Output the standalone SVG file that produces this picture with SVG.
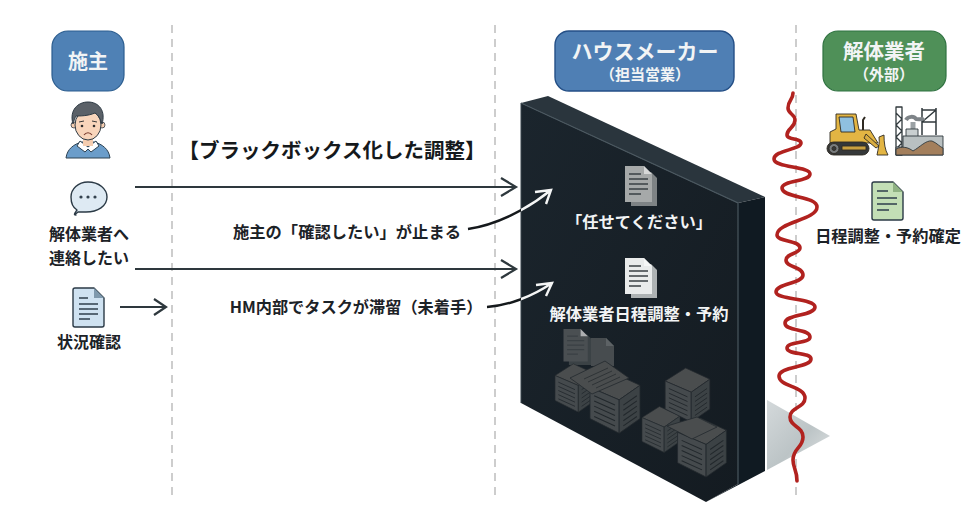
<svg xmlns="http://www.w3.org/2000/svg" xmlns:xlink="http://www.w3.org/1999/xlink" width="980" height="520" viewBox="0 0 980 520">
<style>
text{font-family:"Noto Sans CJK JP","Noto Sans",sans-serif;text-anchor:middle;font-weight:700}
.dk{fill:#1c2227;font-size:16px}
.wt{fill:#f2f4f5}
.div{stroke:#9b9b9b;stroke-width:1;stroke-dasharray:8 6;fill:none}
.arr{stroke:#2e383d;stroke-width:2.2;fill:none}
.ic{stroke:#2b3a46;stroke-width:1.4;stroke-linejoin:round}
.ln{stroke:#2f3f4c;stroke-width:1.3;fill:none}
.bl{fill:#454a4d;stroke:#23292e;stroke-width:.8}
.br{fill:#3c4245;stroke:#23292e;stroke-width:.8}
.bt{fill:#4a4d4e;stroke:#23292e;stroke-width:.8}
.bs{stroke:#22282c;stroke-width:1;fill:none}
</style>
<defs>
<linearGradient id="front" x1="0" y1="0" x2="1" y2="1"><stop offset="0" stop-color="#1b252d"/><stop offset="1" stop-color="#141b21"/></linearGradient>
<linearGradient id="shadow" x1="0" y1="0" x2="1" y2="1"><stop offset="0" stop-color="#d4d9db"/><stop offset=".55" stop-color="#bcc4c6"/><stop offset="1" stop-color="#e2e5e6"/></linearGradient>
<clipPath id="outside"><rect x="0" y="0" width="521" height="520"/></clipPath>
<clipPath id="inside"><rect x="521" y="0" width="200" height="520"/></clipPath>
<symbol id="box" viewBox="0 0 48 58" overflow="visible">
<path class="bt" d="M0 14L22 0L48 12L28 26Z"/>
<path class="bl" d="M0 14L28 26V58L0 44Z"/>
<path class="br" d="M28 26L48 12V44L28 58Z"/>
<path class="bs" d="M4 22L24 31M4 27L24 36M4 32L24 41M4 37L24 46M4 42L24 51M32 31L45 22M32 36L45 27M32 41L45 32M32 46L45 37M32 51L45 42"/>
</symbol>
<symbol id="doc" viewBox="0 0 34 40" overflow="visible">
<path d="M8 6H28L34 12V40H8Z" fill="currentColor" opacity=".72"/>
<path d="M2 0H21L29 8V36H2Z" fill="currentColor"/>
<path d="M21 0V8H29Z" fill="#ffffff" opacity=".55"/>
<path d="M6 8H18M6 13H25M6 18H25M6 23H25M6 28H18" stroke="#3a4044" stroke-width="1.4" fill="none"/>
</symbol>
</defs>
<rect width="980" height="520" fill="#ffffff"/>

<g id="dividers">
<path class="div" d="M172 25V497"/>
<path class="div" d="M495 25V497"/>
<path class="div" d="M796 25V497"/>
</g>

<g id="shadow-area"><path d="M767 400L830 436L767 470Z" fill="url(#shadow)"/></g>

<g id="blackbox-wall">
<path d="M521 103L548 96L765 197L738 203Z" fill="#2a353d"/>
<path d="M738 203L765 197V471L706 502L738 484Z" fill="#101a22"/>
<path d="M521 103L738 203V484L706 502L521 403Z" fill="url(#front)"/>
<path d="M521 103L738 203V484" fill="none" stroke="#49565e" stroke-width="1.2"/>
<path d="M521 103V403" fill="none" stroke="#39454d" stroke-width="1"/>
<use href="#doc" x="623" y="166" width="34" height="40" color="#a6a9a9"/>
<text class="wt" x="639" y="228" font-size="16.3">「任せてください」</text>
<use href="#doc" x="623" y="258" width="34" height="40" color="#e9ebeb"/>
<text class="wt" x="639" y="320" font-size="16.3">解体業者日程調整・予約</text>
<g id="stacks">
<use href="#doc" x="561" y="329" width="32" height="36" color="#4a4f52"/>
<path d="M591 338H606L614 346V366H591Z" fill="#474c4f"/>
<path d="M606 338V346H614Z" fill="#5d6265"/>
<use href="#box" x="555" y="358" width="40" height="60"/>
<use href="#box" x="590" y="372" width="50" height="62"/>
<path class="bt" d="M570 378L605 361L629 378L592 394Z"/>
<path class="bs" d="M584 379L608 368M588 382L612 371M592 385L616 374M596 388L620 377" opacity=".7"/>
<use href="#box" x="642" y="402" width="38" height="55"/>
<use href="#box" x="665" y="368" width="45" height="54"/>
<use href="#box" x="677" y="418" width="50" height="59"/>
<path class="bt" d="M667 426L697 417L717 427L692 439Z"/>
</g>
</g>

<g id="connectors">
<path class="arr" d="M135 187H516M501 178L516 187L501 196"/>
<path class="arr" d="M135 269H516M501 260L516 269L501 278"/>
<path class="arr" d="M120 307H166M154 299L166 307L154 315"/>
<g clip-path="url(#outside)" fill="none" stroke="#15191c" stroke-width="2.4">
<path d="M468 229C495 225 525 211 551 190"/>
<path d="M487 307C505 306 530 298 552 283"/>
</g>
<g clip-path="url(#inside)" fill="none" stroke="#f4f5f5" stroke-width="2.4">
<path d="M468 229C495 225 525 211 551 190M535 192L551 190L546 204"/>
<path d="M487 307C505 306 530 298 552 283M536 285L552 283L546 296"/>
</g>
</g>

<g id="red-line">
<path d="M793 93C793 100 788 100 788 108C788 114 795 114 795 120C795 128 787 128 787 135C787 140 801 138 801 143C801 150 774 150 774 159C774 168 810 166 810 174C810 182 782 180 782 188C782 198 817 196 817 207C817 220 777 222 777 235C777 242 800 240 800 248C800 254 786 253 786 260C786 268 803 266 803 275C803 284 776 283 776 292C776 300 815 298 815 307C815 316 785 314 785 323C785 332 810 328 810 337C810 344 787 341 787 348C787 355 811 352 811 359C811 368 779 366 779 376C779 387 805 386 805 398C805 408 790 407 790 417C790 427 803 426 803 437C803 448 793 448 793 460C793 468 797 470 797 481" fill="none" stroke="#b1221f" stroke-width="3.6" stroke-linecap="round"/>
</g>

<g id="owner">
<rect x="52" y="31" width="72" height="60" rx="16" fill="#4f81b5" stroke="#2b5d8f" stroke-width="1.2"/>
<text class="wt" x="88" y="69" font-size="20">施主</text>
</g>
<g id="owner-person">
<path d="M66 158C67 149 74 144 82 142H94C102 144 109 149 110 158Z" fill="#6b9dca" stroke="#2e4252" stroke-width="1"/>
<path d="M80 141L88 147L96 141L99 146L91 152L88 149L85 152L77 146Z" fill="#ffffff" stroke="#2e4252" stroke-width="1"/>
<rect x="83" y="135" width="10" height="11" fill="#f5cdb0"/>
<circle cx="74" cy="125" r="3" fill="#f5cdb0" stroke="#2e3a44" stroke-width=".8"/>
<circle cx="102" cy="125" r="3" fill="#f5cdb0" stroke="#2e3a44" stroke-width=".8"/>
<ellipse cx="88" cy="125" rx="13" ry="15" fill="#f8d5bb" stroke="#2e3a44" stroke-width="1"/>
<path d="M73 124C69 110 78 102 88 102C99 102 106 111 102 124C100 118 98 115 95 113C88 116 80 116 76 116C75 118 74 120 73 124Z" fill="#5b6168" stroke="#2e3a44" stroke-width="1"/>
<path d="M79 122L84 121M92 121L97 122" stroke="#3a3a3a" stroke-width="1" fill="none"/>
<circle cx="82" cy="126" r="1.3" fill="#2e2e2e"/><circle cx="94" cy="126" r="1.3" fill="#2e2e2e"/>
<path d="M84 135C86 132 90 132 92 135" stroke="#7a3d30" stroke-width="1.2" fill="none"/>
</g>

<g id="speech">
<path class="ic" fill="#deeaf3" d="M88 182C99 182 107 189 107 197C107 206 98 212 86 212C83 212 80 212 78 212C76 214 73 215 76 215C73 215 75 213 77 210C72 207 71 203 71 197C71 189 78 182 88 182Z"/>
<circle cx="81" cy="197" r="1.6" fill="#33424e"/><circle cx="88" cy="197" r="1.6" fill="#33424e"/><circle cx="95" cy="197" r="1.6" fill="#33424e"/>
<text class="dk" x="89" y="240">解体業者へ</text>
<text class="dk" x="89" y="263.500">連絡したい</text>
</g>

<g id="status">
<path class="ic" fill="#cfe2f1" d="M75 288H94L104 298V325Q104 327 102 327H75Q73 327 73 325V290Q73 288 75 288Z"/>
<path d="M94 288L104 298H94Z" fill="#7f99ad"/>
<path class="ln" d="M79 298H88M79 304H98M79 309H98M79 314H98M79 319H90"/>
<text class="dk" x="89" y="348">状況確認</text>
</g>

<g id="labels">
<text x="332" y="158" font-size="20.5" fill="#15191c">【ブラックボックス化した調整】</text>
<text class="dk" x="347" y="238" style="font-size:16.3px">施主の「確認したい」が止まる</text>
<text class="dk" x="356" y="313" style="font-size:16.2px">HM内部でタスクが滞留（未着手）</text>
</g>

<g id="housemaker">
<rect x="555" y="31" width="179" height="60" rx="14" fill="#4f7fb4" stroke="#244f86" stroke-width="1.4"/>
<text class="wt" x="645" y="59" font-size="21">ハウスメーカー</text>
<text class="wt" x="645" y="80" font-size="15">（担当営業）</text>
</g>

<g id="contractor">
<rect x="823" y="31" width="123" height="60" rx="15" fill="#4f9058" stroke="#2f7240" stroke-width="1.2"/>
<text class="wt" x="884" y="59" font-size="20.5">解体業者</text>
<text class="wt" x="884" y="80" font-size="15">（外部）</text>
</g>

<g id="bulldozer" stroke="#2f2a22" stroke-width=".9" stroke-linejoin="round">
<path d="M830 132L836 129V114H856L859 130H870L878 143H830Z" fill="#e3b543"/>
<path d="M839 117H853L855 132H841Z" fill="#8fc0df"/>
<path d="M863 130V120L865 117" fill="none" stroke-width="2"/>
<rect x="827" y="142" width="42" height="13" rx="6.5" fill="#35383a"/>
<circle cx="834" cy="148.500" r="5" fill="#787c7e"/><circle cx="834" cy="148.500" r="2" fill="#35383a"/>
<path d="M842 146H866V150H842Z" fill="#c9a040"/>
<path d="M866 134L879 146L876 148L864 138Z" fill="#d9ad41"/>
<path d="M879 137L884 135C884 143 885 150 888 155H877C878 149 880 143 879 137Z" fill="#e3b543"/>
</g>

<g id="demolition" stroke="#30393c" stroke-width=".9" stroke-linejoin="round">
<path d="M896 107H902V155H896ZM896 113L902 119L896 125L902 131L896 137L902 143L896 149" fill="none" stroke-width="1.3"/>
<path d="M922 108V135M936 108V135M922 110H936M922 122H936M922 122L936 110" fill="none" stroke-width="1.5"/>
<path d="M913 133V122" fill="none" stroke="#9aa1a4" stroke-width="5"/>
<path d="M906 120C908 116 914 116 916 119C920 119 922 120 924 118" fill="none" stroke="#7e8488" stroke-width="4"/>
<path d="M906 138V129H918V138Z" fill="#c9cfd0"/>
<path d="M903 136H943V155H896V147H903Z" fill="#b9c0c1"/>
<path d="M896 155V149C902 146 908 147 913 151C920 147 926 140 932 141C937 143 940 147 943 148V155Z" fill="#a37f5c"/>
</g>

<g id="schedule">
<path class="ic" fill="#c3dfb6" d="M874 182H893L903 192V218Q903 220 901 220H874Q872 220 872 218V184Q872 182 874 182Z"/>
<path d="M893 182L903 192H893Z" fill="#8fb283"/>
<path class="ln" d="M877 191H888M877 198H897M877 204H897M877 210H889"/>
<text class="dk" x="888" y="242" style="font-size:16.2px">日程調整・予約確定</text>
</g>
</svg>
